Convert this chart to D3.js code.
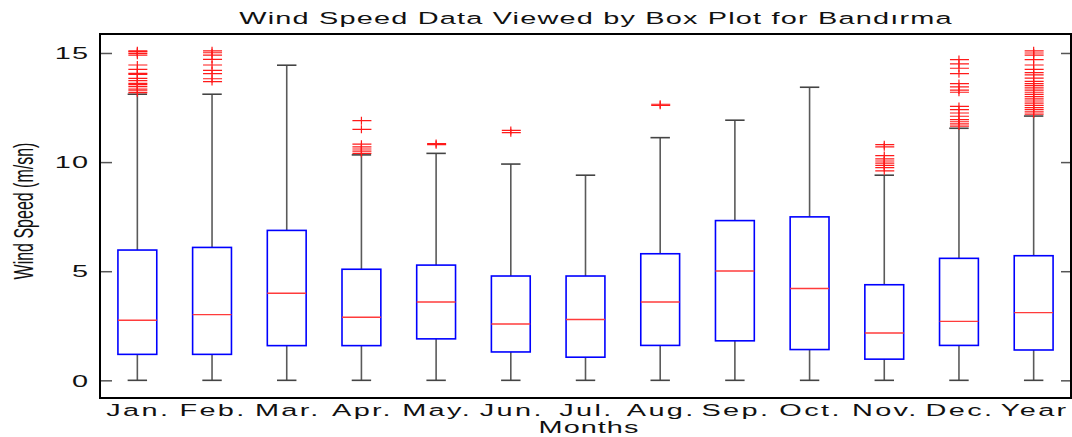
<!DOCTYPE html>
<html>
<head>
<meta charset="utf-8">
<script src="https://cdn.jsdelivr.net/npm/d3@7"></script>
<style>
    body { margin: 0; background: #fff; }
    text { font-family: "Liberation Sans", Arial, Helvetica, sans-serif; fill: #111; }
</style>
</head>
<body>
<script>
const months = ["Jan.", "Feb.", "Mar.", "Apr.", "May.", "Jun.", "Jul.", "Aug.", "Sep.", "Oct.", "Nov.", "Dec.", "Year"];
const whiskerLow = [0, 0, 0, 0, 0, 0, 0, 0, 0, 0, 0, 0, 0];
const q1 = [1.19, 1.19, 1.59, 1.59, 1.9, 1.3, 1.06, 1.6, 1.81, 1.41, 0.97, 1.6, 1.39];
const medians = [2.75, 3.01, 3.99, 2.89, 3.59, 2.58, 2.79, 3.59, 5.01, 4.21, 2.17, 2.70, 3.10];
const q3 = [5.97, 6.09, 6.87, 5.09, 5.28, 4.78, 4.78, 5.80, 7.32, 7.49, 4.38, 5.59, 5.71];
const whiskerHigh = [13.11, 13.11, 14.44, 10.33, 10.4, 9.91, 9.4, 11.12, 11.92, 13.43, 9.4, 11.55, 12.11];
const outliers = [
    [13.18, 13.27, 13.34, 13.46, 13.55, 13.61, 13.73, 13.84, 14.02, 14.07, 14.25, 14.45, 14.9, 14.98, 15.06, 15.1],
    [13.69, 13.82, 14.05, 14.2, 14.45, 14.71, 14.9, 15.01, 15.1],
    [],
    [10.4, 10.5, 10.6, 10.7, 10.82, 11.5, 11.9],
    [10.8, 10.85],
    [11.35, 11.45],
    [],
    [12.6, 12.65],
    [],
    [],
    [9.6, 9.75, 9.85, 9.95, 10.05, 10.15, 10.3, 10.7, 10.8],
    [11.65, 11.75, 11.85, 11.95, 12.1, 12.25, 12.4, 12.55, 13.2, 13.3, 13.45, 13.6, 14.05, 14.3, 14.5, 14.7],
    [12.2, 12.3, 12.4, 12.5, 12.6, 12.7, 12.8, 12.9, 13.0, 13.1, 13.2, 13.3, 13.4, 13.5, 13.6, 13.7,
     13.85, 14.0, 14.1, 14.25, 14.45, 14.7, 14.9, 15.0, 15.1]
];
const yTicks = [0, 5, 10, 15];

const W = 1072, H = 437;
const plot = { left: 100, right: 1071, top: 34, bottom: 398 };
const SX = 1.7; // text in the picture is stretched horizontally

const rows = months.map((m, i) => ({
    key: m, lo: whiskerLow[i], q1: q1[i], med: medians[i], q3: q3[i], hi: whiskerHigh[i], out: outliers[i]
}));

const svg = d3.select("body")
    .append("svg")
    .attr("width", W)
    .attr("height", H);

const x = d3.scaleBand()
    .domain(months)
    .range([plot.left, plot.right])
    .padding(0);
const y = d3.scaleLinear()
    .domain([-0.81, 15.87])
    .range([plot.bottom, plot.top]);

const bw = x.bandwidth();
const cx = d => x(d.key) + bw / 2;
const boxW = bw * 0.52;
const capW = bw * 0.26;

const stretched = (sel, tx, ty, rot = 0) =>
    sel.attr("transform", `translate(${tx},${ty}) scale(${SX},1)` + (rot ? ` rotate(${rot})` : ""));

// axes
const yl = svg.append("g")
    .attr("transform", `translate(${plot.left},0)`)
    .call(d3.axisLeft(y).tickValues(yTicks).tickSizeInner(-12).tickSizeOuter(0));
yl.select(".domain").remove();
yl.selectAll(".tick line").attr("stroke", "#555").attr("stroke-width", 1.5);
yl.selectAll(".tick text")
    .attr("x", null).attr("dy", null)
    .attr("dominant-baseline", "central")
    .attr("font-size", 17)
    .attr("letter-spacing", 0.6)
    .attr("fill", "#111")
    .each(function (d) { stretched(d3.select(this), -11, 0); });

const yr = svg.append("g")
    .attr("transform", `translate(${plot.right},0)`)
    .call(d3.axisRight(y).tickValues(yTicks).tickSizeInner(-10).tickSizeOuter(0).tickFormat(""));
yr.select(".domain").remove();
yr.selectAll(".tick line").attr("stroke", "#555").attr("stroke-width", 1.5);

svg.append("rect")
    .attr("x", plot.left)
    .attr("y", plot.top)
    .attr("width", plot.right - plot.left)
    .attr("height", plot.bottom - plot.top)
    .attr("fill", "none")
    .attr("stroke", "#000")
    .attr("stroke-width", 2);

// x labels
svg.append("g")
    .selectAll("text")
    .data(months)
    .join("text")
    .attr("text-anchor", "middle")
    .attr("font-size", 17)
    .attr("letter-spacing", 1.4)
    .each(function (m) { stretched(d3.select(this), x(m) + bw / 2 + 1, 416); })
    .text(m => m);

// boxes
const g = svg.append("g")
    .selectAll("g")
    .data(rows)
    .join("g");

g.append("line")
    .attr("x1", cx).attr("x2", cx)
    .attr("y1", d => y(d.q3)).attr("y2", d => y(d.hi))
    .attr("stroke", "#5a5a5a").attr("stroke-width", 1.6);
g.append("line")
    .attr("x1", cx).attr("x2", cx)
    .attr("y1", d => y(d.q1)).attr("y2", d => y(d.lo))
    .attr("stroke", "#5a5a5a").attr("stroke-width", 1.6);
g.append("line")
    .attr("x1", d => cx(d) - capW / 2).attr("x2", d => cx(d) + capW / 2)
    .attr("y1", d => y(d.hi)).attr("y2", d => y(d.hi))
    .attr("stroke", "#444").attr("stroke-width", 1.6);
g.append("line")
    .attr("x1", d => cx(d) - capW / 2).attr("x2", d => cx(d) + capW / 2)
    .attr("y1", d => y(d.lo)).attr("y2", d => y(d.lo))
    .attr("stroke", "#444").attr("stroke-width", 1.6);
g.append("rect")
    .attr("x", d => cx(d) - boxW / 2)
    .attr("width", boxW)
    .attr("y", d => y(d.q3))
    .attr("height", d => y(d.q1) - y(d.q3))
    .attr("fill", "none")
    .attr("stroke", "#0000ff")
    .attr("stroke-width", 1.6);
g.append("line")
    .attr("x1", d => cx(d) - boxW / 2).attr("x2", d => cx(d) + boxW / 2)
    .attr("y1", d => y(d.med)).attr("y2", d => y(d.med))
    .attr("stroke", "#ff3b3b").attr("stroke-width", 1.4);

// outliers as '+'
g.selectAll("path.out")
    .data(d => d.out.map(v => ({ v, c: cx(d) })))
    .join("path")
    .attr("class", "out")
    .attr("d", o => {
        const py = y(o.v);
        return `M${o.c - 9},${py}H${o.c + 10}M${o.c},${py - 4}V${py + 4}`;
    })
    .attr("stroke", "#ff1a1a")
    .attr("stroke-width", 1.2)
    .attr("fill", "none");

// titles
svg.append("text")
    .attr("text-anchor", "middle")
    .attr("font-size", 17)
    .attr("letter-spacing", 0.7)
    .call(s => stretched(s, 596, 24))
    .text("Wind Speed Data Viewed by Box Plot for Bandırma");
svg.append("text")
    .attr("text-anchor", "middle")
    .attr("font-size", 17)
    .attr("letter-spacing", 0.6)
    .call(s => stretched(s, 589, 433))
    .text("Months");
svg.append("text")
    .attr("text-anchor", "middle")
    .attr("font-size", 16)
    .call(s => stretched(s, 33, 211, -90))
    .text("Wind Speed (m/sn)");
</script>
</body>
</html>
